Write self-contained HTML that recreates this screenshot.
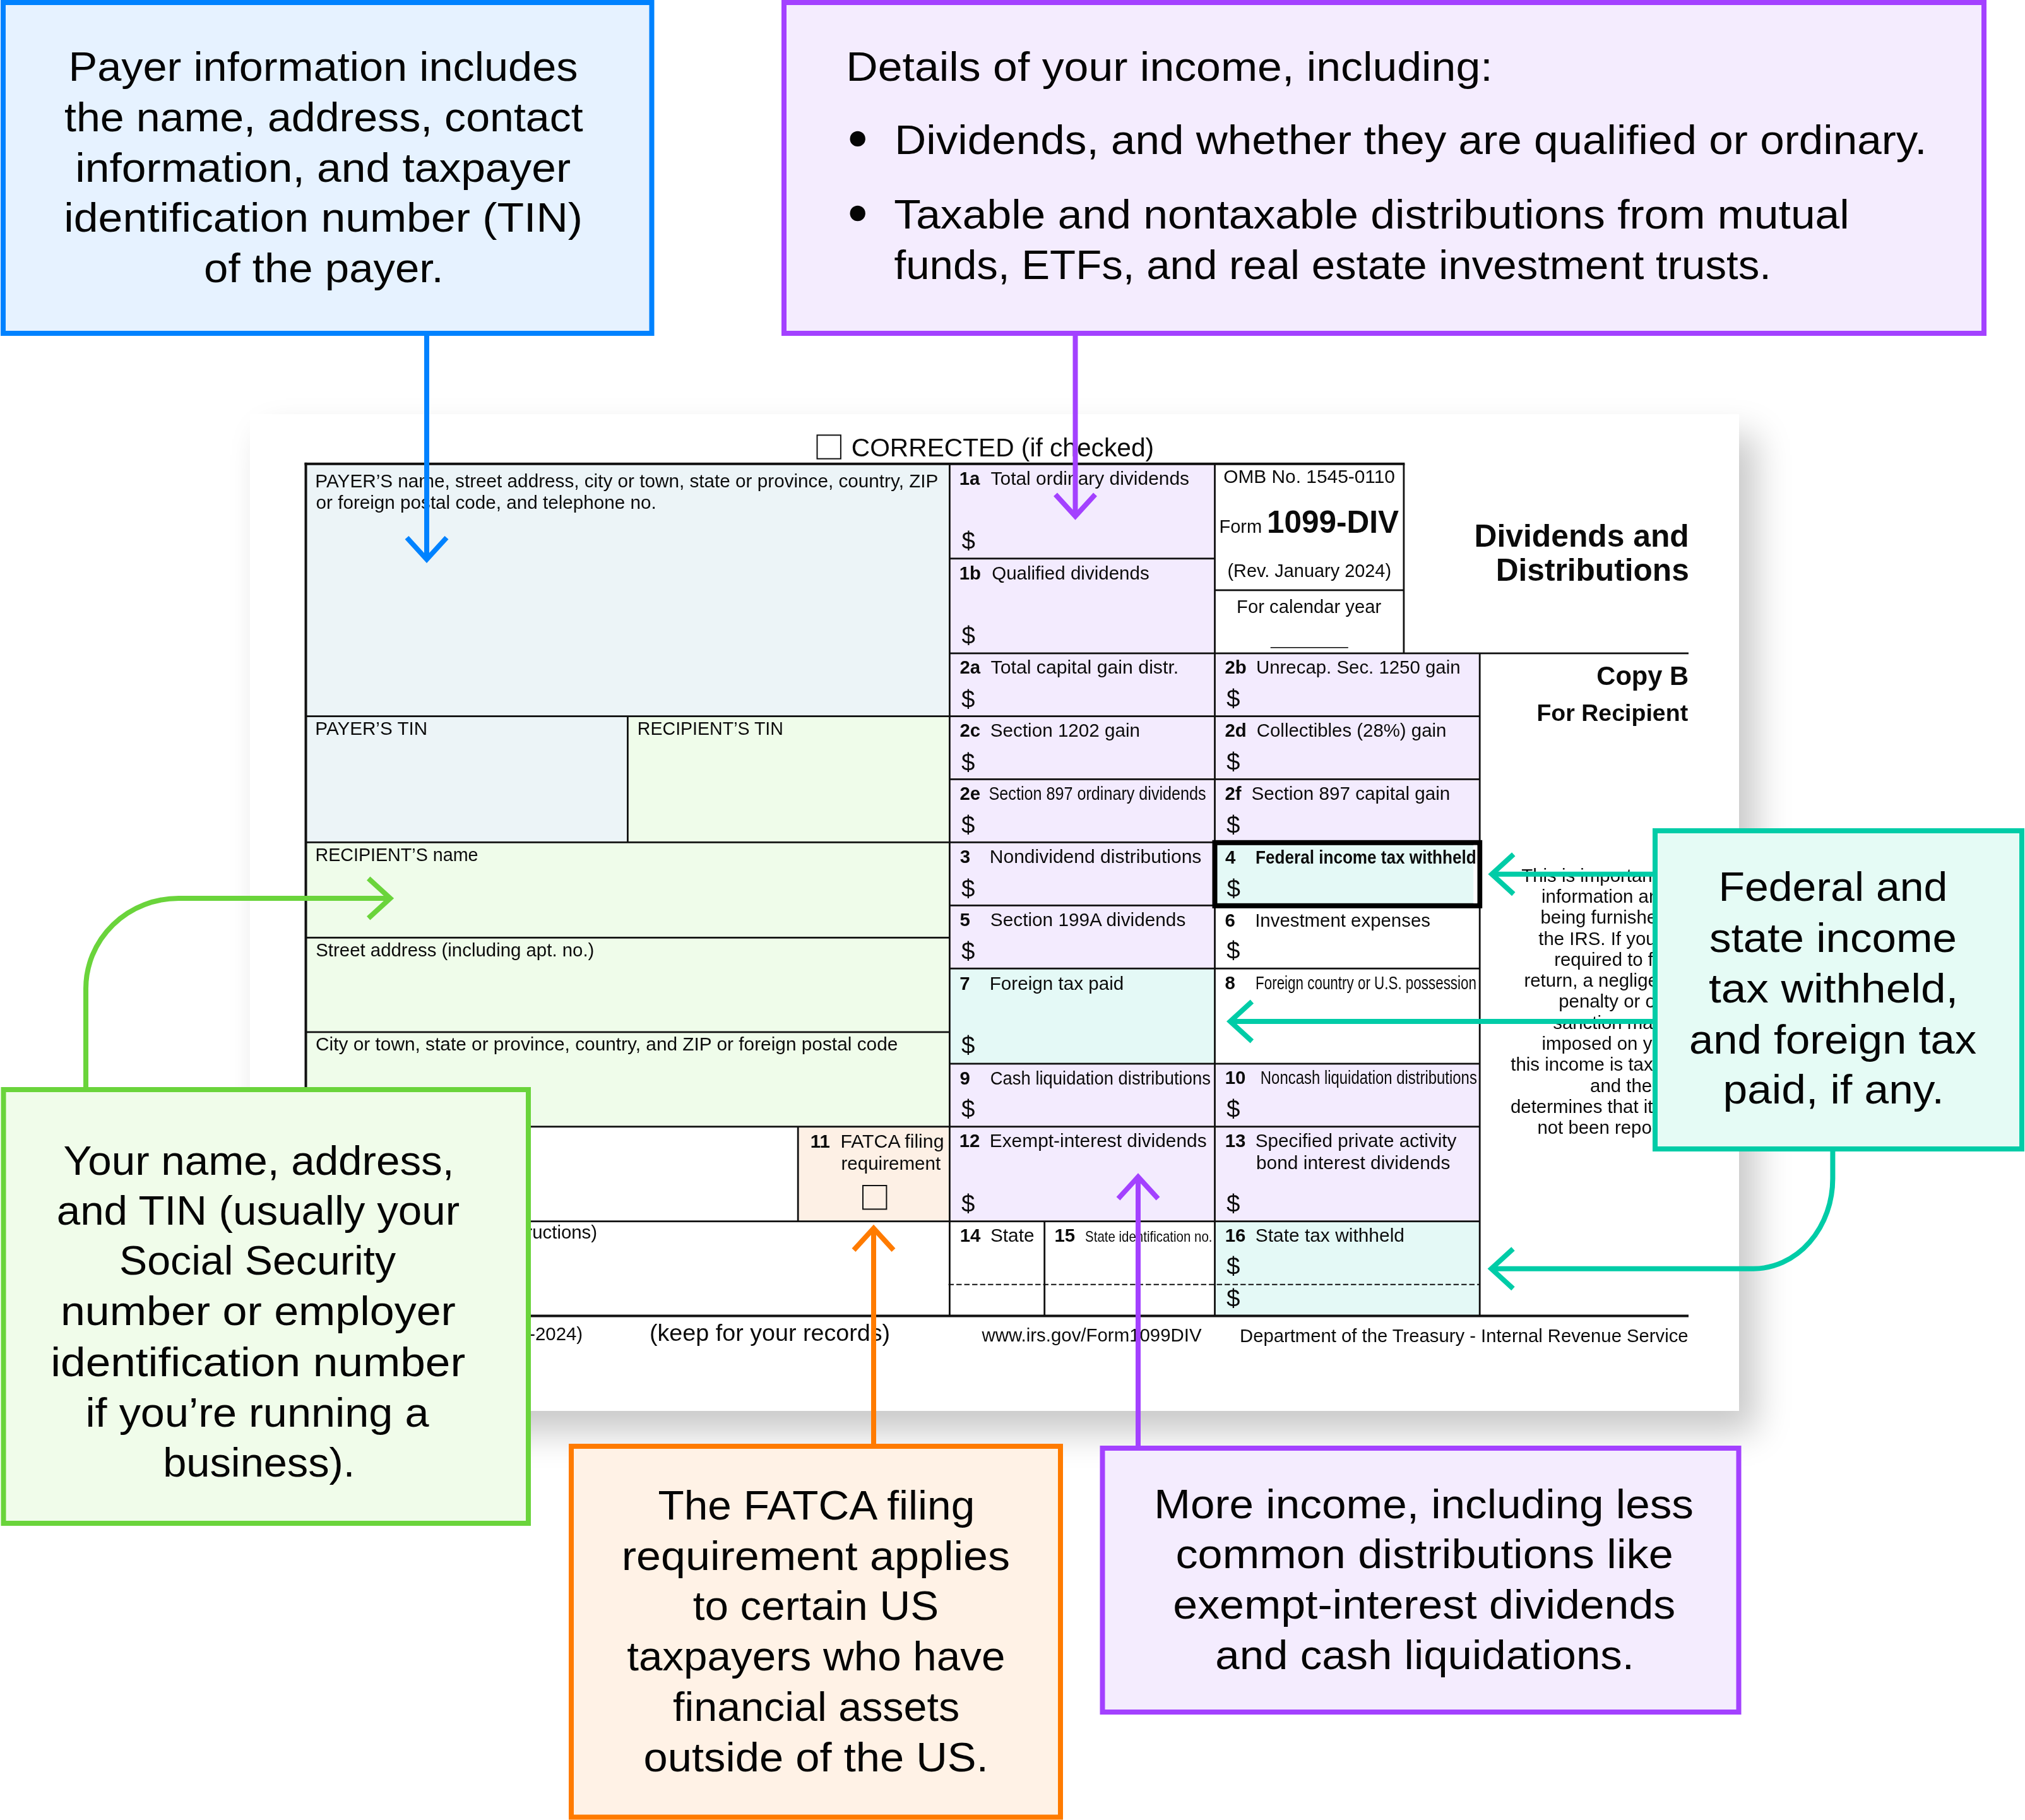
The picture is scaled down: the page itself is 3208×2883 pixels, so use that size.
<!DOCTYPE html><html><head><meta charset="utf-8"><title>Form 1099-DIV explained</title>
<style>html,body{margin:0;padding:0;background:#fff;}body{width:3208px;height:2883px;position:relative;overflow:hidden;}#paper{position:absolute;left:396px;top:655.5px;width:2358.6px;height:1579.5px;background:#fff;box-shadow:26px 33px 53px rgba(0,0,0,0.22);}svg{position:absolute;left:0;top:0;will-change:transform;}text{font-family:"Liberation Sans", sans-serif;fill:#0b0b0b;}.c text{fill:#050505;}</style></head><body>
<div id="paper"></div>
<svg width="3208" height="2883" viewBox="0 0 3208 2883">
<rect x="484.50" y="734.80" width="1019.90" height="399.80" fill="#ECF4F7"/>
<rect x="484.50" y="1134.60" width="509.90" height="199.70" fill="#ECF4F7"/>
<rect x="994.40" y="1134.60" width="510.00" height="199.70" fill="#EFFCEA"/>
<rect x="484.50" y="1334.30" width="1019.90" height="450.40" fill="#EFFCEA"/>
<rect x="1264.20" y="1784.70" width="240.20" height="150.00" fill="#FDF0E5"/>
<rect x="1504.40" y="734.80" width="420.10" height="300.10" fill="#F3EBFE"/>
<rect x="1504.40" y="1034.90" width="839.80" height="299.40" fill="#F3EBFE"/>
<rect x="1504.40" y="1334.30" width="420.10" height="100.00" fill="#F3EBFE"/>
<rect x="1924.50" y="1334.30" width="419.70" height="100.00" fill="#E4F9F6"/>
<rect x="1504.40" y="1434.30" width="420.10" height="99.90" fill="#F3EBFE"/>
<rect x="1504.40" y="1534.20" width="420.10" height="150.80" fill="#E4F9F6"/>
<rect x="1504.40" y="1685.00" width="839.80" height="249.70" fill="#F3EBFE"/>
<rect x="1924.50" y="1934.70" width="419.70" height="149.80" fill="#E4F9F6"/>
<rect x="482.50" y="732.80" width="1742.90" height="4.00" fill="#111111"/>
<rect x="1504.40" y="883.40" width="420.10" height="2.80" fill="#111111"/>
<rect x="1924.50" y="933.50" width="299.40" height="2.80" fill="#111111"/>
<rect x="1504.40" y="1033.50" width="1170.60" height="2.80" fill="#111111"/>
<rect x="484.50" y="1133.20" width="1859.70" height="2.80" fill="#111111"/>
<rect x="1504.40" y="1233.00" width="839.80" height="2.80" fill="#111111"/>
<rect x="484.50" y="1332.90" width="1859.70" height="2.80" fill="#111111"/>
<rect x="1504.40" y="1432.90" width="839.80" height="2.80" fill="#111111"/>
<rect x="484.50" y="1483.90" width="1019.90" height="2.80" fill="#111111"/>
<rect x="1504.40" y="1532.80" width="839.80" height="2.80" fill="#111111"/>
<rect x="484.50" y="1633.50" width="1019.90" height="2.80" fill="#111111"/>
<rect x="1504.40" y="1683.60" width="839.80" height="2.80" fill="#111111"/>
<rect x="484.50" y="1783.30" width="1859.70" height="2.80" fill="#111111"/>
<rect x="484.50" y="1933.30" width="1859.70" height="2.80" fill="#111111"/>
<rect x="482.50" y="2082.50" width="2192.50" height="4.00" fill="#111111"/>
<line x1="1502.6" y1="2034.8" x2="2344.2" y2="2034.8" stroke="#111111" stroke-width="2" stroke-dasharray="8.4 4.1"/>
<rect x="482.50" y="732.80" width="4.00" height="1353.70" fill="#111111"/>
<rect x="993.00" y="1134.60" width="2.80" height="199.70" fill="#111111"/>
<rect x="1262.80" y="1784.70" width="2.80" height="150.00" fill="#111111"/>
<rect x="1503.00" y="734.80" width="2.80" height="1349.70" fill="#111111"/>
<rect x="1653.30" y="1934.70" width="2.80" height="149.80" fill="#111111"/>
<rect x="1923.10" y="734.80" width="2.80" height="1349.70" fill="#111111"/>
<rect x="2222.50" y="734.80" width="2.80" height="300.10" fill="#111111"/>
<rect x="2342.80" y="1034.90" width="2.80" height="1049.60" fill="#111111"/>
<rect x="2012.70" y="1025.00" width="123.10" height="1.60" fill="#111111"/>
<rect x="1924.5" y="1334.8" width="419.7" height="100.0" fill="none" stroke="#000" stroke-width="8"/>
<rect x="2334.20" y="1338.80" width="6.20" height="92.00" fill="#ffffff"/>
<rect x="1294.5" y="689.3" width="37.4" height="37.4" fill="none" stroke="#111" stroke-width="2"/>
<rect x="1367" y="1878" width="37.4" height="37.4" fill="none" stroke="#111" stroke-width="2"/>
<text x="1348.83" y="722.90" font-size="40.70">CORRECTED (if checked)</text>
<text x="499.38" y="772.30" font-size="29.40" textLength="986.98" lengthAdjust="spacingAndGlyphs">PAYER’S name, street address, city or town, state or province, country, ZIP</text>
<text x="500.55" y="806.20" font-size="29.40" textLength="539.15" lengthAdjust="spacingAndGlyphs">or foreign postal code, and telephone no.</text>
<text x="499.34" y="1164.30" font-size="29.40" textLength="177.82" lengthAdjust="spacingAndGlyphs">PAYER’S TIN</text>
<text x="1009.86" y="1164.30" font-size="29.40" textLength="231.06" lengthAdjust="spacingAndGlyphs">RECIPIENT’S TIN</text>
<text x="499.45" y="1364.40" font-size="29.40" textLength="258.02" lengthAdjust="spacingAndGlyphs">RECIPIENT’S name</text>
<text x="500.26" y="1514.70" font-size="29.40">Street address (including apt. no.)</text>
<text x="500.09" y="1664.10" font-size="29.40" textLength="922.23" lengthAdjust="spacingAndGlyphs">City or town, state or province, country, and ZIP or foreign postal code</text>
<text x="500.13" y="1962.20" font-size="29.40">Account number (see instructions)</text>
<text x="1283.75" y="1818.00" font-size="29.40" font-weight="700">11</text>
<text x="1331.40" y="1818.00" font-size="29.40" textLength="164.08" lengthAdjust="spacingAndGlyphs">FATCA filing</text>
<text x="1332.44" y="1852.60" font-size="29.40" textLength="157.78" lengthAdjust="spacingAndGlyphs">requirement</text>
<text x="1519.65" y="768.20" font-size="29.40" font-weight="700">1a</text>
<text x="1569.53" y="768.20" font-size="29.40" textLength="314.54" lengthAdjust="spacingAndGlyphs">Total ordinary dividends</text>
<text x="1523.59" y="870.20" font-size="38.50">$</text>
<text x="1519.65" y="917.50" font-size="29.40" font-weight="700">1b</text>
<text x="1571.20" y="917.50" font-size="29.40" textLength="249.47" lengthAdjust="spacingAndGlyphs">Qualified dividends</text>
<text x="1523.59" y="1019.90" font-size="38.50">$</text>
<text x="1520.48" y="1067.40" font-size="29.40" font-weight="700">2a</text>
<text x="1569.53" y="1067.40" font-size="29.40" textLength="297.69" lengthAdjust="spacingAndGlyphs">Total capital gain distr.</text>
<text x="1523.09" y="1120.50" font-size="38.50">$</text>
<text x="1520.48" y="1167.30" font-size="29.40" font-weight="700">2c</text>
<text x="1568.85" y="1167.30" font-size="29.40" textLength="237.17" lengthAdjust="spacingAndGlyphs">Section 1202 gain</text>
<text x="1523.09" y="1220.60" font-size="38.50">$</text>
<text x="1520.48" y="1267.10" font-size="29.40" font-weight="700">2e</text>
<text x="1566.56" y="1267.10" font-size="29.40" textLength="344.15" lengthAdjust="spacingAndGlyphs">Section 897 ordinary dividends</text>
<text x="1523.09" y="1320.30" font-size="38.50">$</text>
<text x="1520.83" y="1367.10" font-size="29.40" font-weight="700">3</text>
<text x="1567.74" y="1367.10" font-size="29.40" textLength="335.65" lengthAdjust="spacingAndGlyphs">Nondividend distributions</text>
<text x="1523.09" y="1420.50" font-size="38.50">$</text>
<text x="1520.60" y="1466.80" font-size="29.40" font-weight="700">5</text>
<text x="1568.86" y="1466.80" font-size="29.40" textLength="309.41" lengthAdjust="spacingAndGlyphs">Section 199A dividends</text>
<text x="1523.09" y="1519.80" font-size="38.50">$</text>
<text x="1520.24" y="1567.70" font-size="29.40" font-weight="700">7</text>
<text x="1567.77" y="1567.70" font-size="29.40" textLength="212.44" lengthAdjust="spacingAndGlyphs">Foreign tax paid</text>
<text x="1523.09" y="1669.10" font-size="38.50">$</text>
<text x="1520.48" y="1717.60" font-size="29.40" font-weight="700">9</text>
<text x="1568.81" y="1717.60" font-size="29.40" textLength="349.08" lengthAdjust="spacingAndGlyphs">Cash liquidation distributions</text>
<text x="1523.09" y="1770.20" font-size="38.50">$</text>
<text x="1519.65" y="1817.00" font-size="29.40" font-weight="700">12</text>
<text x="1567.75" y="1817.00" font-size="29.40" textLength="343.83" lengthAdjust="spacingAndGlyphs">Exempt-interest dividends</text>
<text x="1523.09" y="1919.80" font-size="38.50">$</text>
<text x="1520.65" y="1966.80" font-size="29.40" font-weight="700">14</text>
<text x="1568.95" y="1966.80" font-size="29.40" textLength="69.58" lengthAdjust="spacingAndGlyphs">State</text>
<text x="1670.45" y="1966.80" font-size="29.40" font-weight="700">15</text>
<text x="1719.07" y="1966.80" font-size="24.00" textLength="201.40" lengthAdjust="spacingAndGlyphs">State identification no.</text>
<text x="1940.48" y="1067.20" font-size="29.40" font-weight="700">2b</text>
<text x="1990.03" y="1067.20" font-size="29.40">Unrecap. Sec. 1250 gain</text>
<text x="1943.09" y="1119.80" font-size="38.50">$</text>
<text x="1940.48" y="1167.20" font-size="29.40" font-weight="700">2d</text>
<text x="1990.81" y="1167.20" font-size="29.40">Collectibles (28%) gain</text>
<text x="1943.09" y="1219.60" font-size="38.50">$</text>
<text x="1940.48" y="1267.10" font-size="29.40" font-weight="700">2f</text>
<text x="1982.45" y="1267.10" font-size="29.40" textLength="314.87" lengthAdjust="spacingAndGlyphs">Section 897 capital gain</text>
<text x="1943.09" y="1319.50" font-size="38.50">$</text>
<text x="1941.05" y="1367.50" font-size="29.40" font-weight="700">4</text>
<text x="1989.05" y="1367.50" font-size="29.40" font-weight="700" textLength="349.67" lengthAdjust="spacingAndGlyphs">Federal income tax withheld</text>
<text x="1943.59" y="1420.80" font-size="38.50">$</text>
<text x="1940.42" y="1467.60" font-size="29.40" font-weight="700">6</text>
<text x="1988.19" y="1467.60" font-size="29.40">Investment expenses</text>
<text x="1943.09" y="1519.20" font-size="38.50">$</text>
<text x="1940.57" y="1567.00" font-size="29.40" font-weight="700">8</text>
<text x="1989.06" y="1567.00" font-size="29.40" textLength="349.89" lengthAdjust="spacingAndGlyphs">Foreign country or U.S. possession</text>
<text x="1940.65" y="1717.40" font-size="29.40" font-weight="700">10</text>
<text x="1996.84" y="1717.40" font-size="29.40" textLength="343.03" lengthAdjust="spacingAndGlyphs">Noncash liquidation distributions</text>
<text x="1943.09" y="1770.00" font-size="38.50">$</text>
<text x="1940.65" y="1816.90" font-size="29.40" font-weight="700">13</text>
<text x="1988.75" y="1816.90" font-size="29.40" textLength="318.71" lengthAdjust="spacingAndGlyphs">Specified private activity</text>
<text x="1989.97" y="1852.20" font-size="29.40" textLength="307.41" lengthAdjust="spacingAndGlyphs">bond interest dividends</text>
<text x="1943.09" y="1919.50" font-size="38.50">$</text>
<text x="1940.65" y="1966.50" font-size="29.40" font-weight="700">16</text>
<text x="1988.74" y="1966.50" font-size="29.40" textLength="236.19" lengthAdjust="spacingAndGlyphs">State tax withheld</text>
<text x="1943.09" y="2019.40" font-size="38.50">$</text>
<text x="1943.09" y="2070.00" font-size="38.50">$</text>
<text x="1938.20" y="765.40" font-size="29.40" textLength="271.76" lengthAdjust="spacingAndGlyphs">OMB No. 1545-0110</text>
<text x="1931.42" y="843.80" font-size="29.40" textLength="67.80" lengthAdjust="spacingAndGlyphs">Form</text>
<text x="2006.89" y="843.80" font-size="49.50" font-weight="700">1099-DIV</text>
<text x="1944.42" y="914.20" font-size="29.40" textLength="259.65" lengthAdjust="spacingAndGlyphs">(Rev. January 2024)</text>
<text x="1959.10" y="970.80" font-size="29.40" textLength="229.08" lengthAdjust="spacingAndGlyphs">For calendar year</text>
<text x="2335.47" y="866.10" font-size="50.20" font-weight="700" textLength="340.31" lengthAdjust="spacingAndGlyphs">Dividends and</text>
<text x="2369.68" y="920.20" font-size="50.20" font-weight="700" textLength="306.06" lengthAdjust="spacingAndGlyphs">Distributions</text>
<text x="2529.29" y="1085.30" font-size="41.70" font-weight="700">Copy B</text>
<text x="2434.39" y="1141.60" font-size="37.60" font-weight="700" textLength="239.77" lengthAdjust="spacingAndGlyphs">For Recipient</text>
<text x="2410.27" y="1396.70" font-size="29.40">This is important tax</text>
<text x="2442.01" y="1429.98" font-size="29.40">information and is</text>
<text x="2440.50" y="1463.26" font-size="29.40">being furnished to</text>
<text x="2437.35" y="1496.54" font-size="29.40">the IRS. If you are</text>
<text x="2462.18" y="1529.82" font-size="29.40">required to file a</text>
<text x="2414.43" y="1563.10" font-size="29.40">return, a negligence</text>
<text x="2469.20" y="1596.38" font-size="29.40">penalty or other</text>
<text x="2460.22" y="1629.66" font-size="29.40">sanction may be</text>
<text x="2442.52" y="1662.94" font-size="29.40">imposed on you if</text>
<text x="2393.24" y="1696.22" font-size="29.40">this income is taxable</text>
<text x="2519.08" y="1729.50" font-size="29.40">and the IRS</text>
<text x="2392.98" y="1762.78" font-size="29.40">determines that it has</text>
<text x="2435.40" y="1796.06" font-size="29.40">not been reported.</text>
<text x="536.55" y="2123.00" font-size="29.40">Form 1099-DIV (Rev. 1-2024)</text>
<text x="1028.97" y="2123.50" font-size="37.70">(keep for your records)</text>
<text x="1555.44" y="2125.40" font-size="29.40" textLength="348.19" lengthAdjust="spacingAndGlyphs">www.irs.gov/Form1099DIV</text>
<text x="1964.01" y="2125.60" font-size="29.40" textLength="710.59" lengthAdjust="spacingAndGlyphs">Department of the Treasury - Internal Revenue Service</text>
<path d="M676,530 V884" fill="none" stroke="#0082FF" stroke-width="8"/>
<polyline points="644.5,851.6 676.0,886.1 707.5,851.6" fill="none" stroke="#0082FF" stroke-width="8" stroke-linejoin="miter" stroke-miterlimit="10"/>
<path d="M1703.5,530 V815" fill="none" stroke="#A341FF" stroke-width="8"/>
<polyline points="1672.0,783.2 1703.5,817.7 1735.0,783.2" fill="none" stroke="#A341FF" stroke-width="8" stroke-linejoin="miter" stroke-miterlimit="10"/>
<path d="M136,1724 V1566 A147,143 0 0 1 283,1423 H616" fill="none" stroke="#6AD43B" stroke-width="8"/>
<polyline points="583.7,1391.5 618.2,1423.0 583.7,1454.5" fill="none" stroke="#6AD43B" stroke-width="8" stroke-linejoin="miter" stroke-miterlimit="10"/>
<path d="M1384,2290 V1948" fill="none" stroke="#FF7B00" stroke-width="8"/>
<polyline points="1352.5,1980.2 1384.0,1945.7 1415.5,1980.2" fill="none" stroke="#FF7B00" stroke-width="8" stroke-linejoin="miter" stroke-miterlimit="10"/>
<path d="M1803,2292 V1866" fill="none" stroke="#A341FF" stroke-width="8"/>
<polyline points="1771.5,1898.7 1803.0,1864.2 1834.5,1898.7" fill="none" stroke="#A341FF" stroke-width="8" stroke-linejoin="miter" stroke-miterlimit="10"/>
<path d="M2620,1384.7 H2366" fill="none" stroke="#00CCA7" stroke-width="8"/>
<polyline points="2397.8,1353.2 2363.3,1384.7 2397.8,1416.2" fill="none" stroke="#00CCA7" stroke-width="8" stroke-linejoin="miter" stroke-miterlimit="10"/>
<path d="M2620,1618 H1951" fill="none" stroke="#00CCA7" stroke-width="8"/>
<polyline points="1983.4,1586.5 1948.9,1618.0 1983.4,1649.5" fill="none" stroke="#00CCA7" stroke-width="8" stroke-linejoin="miter" stroke-miterlimit="10"/>
<path d="M2903.4,1822 V1867 A125.6,142.7 0 0 1 2777.8,2009.7 H2365" fill="none" stroke="#00CCA7" stroke-width="8"/>
<polyline points="2397.0,1978.2 2362.5,2009.7 2397.0,2041.2" fill="none" stroke="#00CCA7" stroke-width="8" stroke-linejoin="miter" stroke-miterlimit="10"/>
<g class="c">
<rect x="1.00" y="0.00" width="1035.50" height="532.00" fill="#0082FF"/>
<rect x="9.00" y="8.00" width="1019.50" height="516.00" fill="#E6F2FF"/>
<text x="108.48" y="127.60" font-size="64.00" textLength="806.99" lengthAdjust="spacingAndGlyphs">Payer information includes</text>
<text x="102.07" y="207.50" font-size="64.00" textLength="821.63" lengthAdjust="spacingAndGlyphs">the name, address, contact</text>
<text x="119.35" y="287.50" font-size="64.00" textLength="784.81" lengthAdjust="spacingAndGlyphs">information, and taxpayer</text>
<text x="101.33" y="367.40" font-size="64.00" textLength="821.69" lengthAdjust="spacingAndGlyphs">identification number (TIN)</text>
<text x="323.13" y="447.40" font-size="64.00" textLength="379.50" lengthAdjust="spacingAndGlyphs">of the payer.</text>
<rect x="1238.00" y="0.00" width="1909.00" height="532.00" fill="#A341FF"/>
<rect x="1246.00" y="8.00" width="1893.00" height="516.00" fill="#F4ECFE"/>
<text x="1340.27" y="128.40" font-size="64.00" textLength="1024.40" lengthAdjust="spacingAndGlyphs">Details of your income, including:</text>
<text x="1417.24" y="244.30" font-size="64.00" textLength="1635.27" lengthAdjust="spacingAndGlyphs">Dividends, and whether they are qualified or ordinary.</text>
<text x="1416.34" y="361.90" font-size="64.00" textLength="1513.49" lengthAdjust="spacingAndGlyphs">Taxable and nontaxable distributions from mutual</text>
<text x="1416.55" y="442.00" font-size="64.00" textLength="1389.39" lengthAdjust="spacingAndGlyphs">funds, ETFs, and real estate investment trusts.</text>
<circle cx="1358.7" cy="219.9" r="12.2" fill="#050505"/>
<circle cx="1358.7" cy="338" r="12.2" fill="#050505"/>
<rect x="2618.00" y="1312.00" width="589.00" height="512.00" fill="#00CCA7"/>
<rect x="2626.00" y="1320.00" width="573.00" height="496.00" fill="#E5FBF5"/>
<text x="2722.42" y="1426.80" font-size="64.00" textLength="362.96" lengthAdjust="spacingAndGlyphs">Federal and</text>
<text x="2708.08" y="1508.40" font-size="64.00" textLength="392.00" lengthAdjust="spacingAndGlyphs">state income</text>
<text x="2706.92" y="1588.20" font-size="64.00" textLength="395.47" lengthAdjust="spacingAndGlyphs">tax withheld,</text>
<text x="2676.08" y="1669.00" font-size="64.00" textLength="455.16" lengthAdjust="spacingAndGlyphs">and foreign tax</text>
<text x="2729.59" y="1748.30" font-size="64.00" textLength="350.16" lengthAdjust="spacingAndGlyphs">paid, if any.</text>
<rect x="1.50" y="1722.00" width="839.50" height="695.00" fill="#6AD43B"/>
<rect x="9.50" y="1730.00" width="823.50" height="679.00" fill="#F0FCEA"/>
<text x="100.53" y="1860.50" font-size="64.00" textLength="618.96" lengthAdjust="spacingAndGlyphs">Your name, address,</text>
<text x="89.75" y="1940.00" font-size="64.00" textLength="638.37" lengthAdjust="spacingAndGlyphs">and TIN (usually your</text>
<text x="188.99" y="2018.50" font-size="64.00" textLength="438.14" lengthAdjust="spacingAndGlyphs">Social Security</text>
<text x="95.96" y="2099.00" font-size="64.00" textLength="625.91" lengthAdjust="spacingAndGlyphs">number or employer</text>
<text x="80.24" y="2180.00" font-size="64.00" textLength="656.94" lengthAdjust="spacingAndGlyphs">identification number</text>
<text x="135.42" y="2259.70" font-size="64.00" textLength="544.08" lengthAdjust="spacingAndGlyphs">if you’re running a</text>
<text x="258.20" y="2339.00" font-size="64.00" textLength="304.20" lengthAdjust="spacingAndGlyphs">business).</text>
<rect x="901.00" y="2287.00" width="783.00" height="595.50" fill="#FF7B00"/>
<rect x="909.00" y="2295.00" width="767.00" height="579.50" fill="#FFF2E6"/>
<text x="1042.52" y="2406.50" font-size="64.00" textLength="501.73" lengthAdjust="spacingAndGlyphs">The FATCA filing</text>
<text x="984.65" y="2486.60" font-size="64.00" textLength="615.38" lengthAdjust="spacingAndGlyphs">requirement applies</text>
<text x="1097.68" y="2565.60" font-size="64.00" textLength="389.41" lengthAdjust="spacingAndGlyphs">to certain US</text>
<text x="993.18" y="2645.80" font-size="64.00" textLength="599.31" lengthAdjust="spacingAndGlyphs">taxpayers who have</text>
<text x="1066.06" y="2725.50" font-size="64.00" textLength="454.14" lengthAdjust="spacingAndGlyphs">financial assets</text>
<text x="1019.61" y="2805.70" font-size="64.00" textLength="546.16" lengthAdjust="spacingAndGlyphs">outside of the US.</text>
<rect x="1742.50" y="2290.00" width="1016.00" height="426.00" fill="#A341FF"/>
<rect x="1750.50" y="2298.00" width="1000.00" height="410.00" fill="#F4ECFE"/>
<text x="1828.32" y="2405.00" font-size="64.00" textLength="854.68" lengthAdjust="spacingAndGlyphs">More income, including less</text>
<text x="1862.52" y="2483.60" font-size="64.00" textLength="788.20" lengthAdjust="spacingAndGlyphs">common distributions like</text>
<text x="1858.33" y="2564.20" font-size="64.00" textLength="795.89" lengthAdjust="spacingAndGlyphs">exempt-interest dividends</text>
<text x="1925.37" y="2644.30" font-size="64.00" textLength="663.63" lengthAdjust="spacingAndGlyphs">and cash liquidations.</text>
</g>
</svg></body></html>
